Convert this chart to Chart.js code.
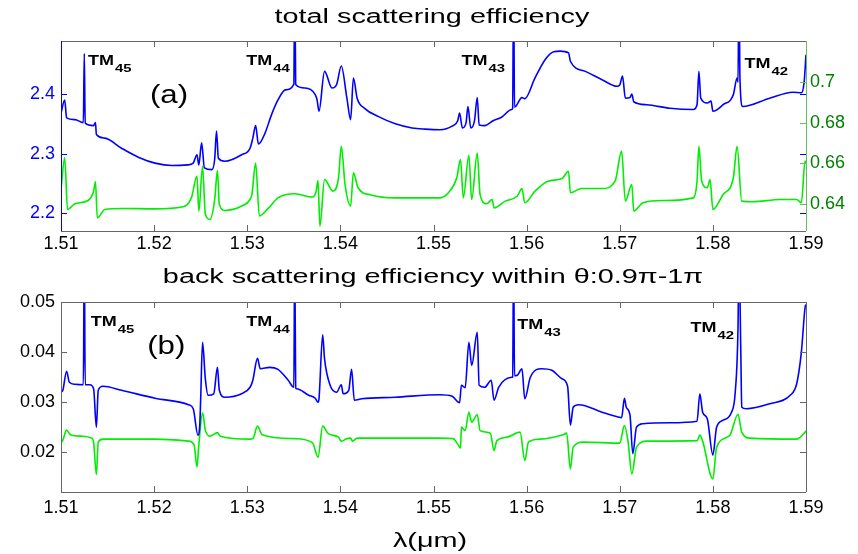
<!DOCTYPE html>
<html>
<head>
<meta charset="utf-8">
<script src="https://cdn.jsdelivr.net/npm/chart.js@4.4.1/dist/chart.umd.min.js"></script>
<style>
  body { margin: 0; background: #fff; }
  .wrap { position: relative; width: 858px; height: 554px; }
  canvas { position: absolute; left: 0; }
  #chartA { top: 0; }
  #chartB { top: 262px; }
</style>
</head>
<body>
<div class="wrap">
  <canvas id="chartA" width="858" height="262"></canvas>
  <canvas id="chartB" width="858" height="292"></canvas>
</div>
<script>
// wavelength axis (um)
const wlTicks = [1.51, 1.52, 1.53, 1.54, 1.55, 1.56, 1.57, 1.58, 1.59];
const totLeftTicks = [2.2, 2.3, 2.4];
const totRightTicks = [0.64, 0.66, 0.68, 0.7];
const backTicks = [0.02, 0.03, 0.04, 0.05];

// (a) total scattering efficiency, blue trace (left axis)
const totBlueWl = [1.5100, 1.5104, 1.5106, 1.5115, 1.5124, 1.5125, 1.5126, 1.5135, 1.5137, 1.5138,
  1.5147, 1.5165, 1.5183, 1.5201, 1.5219, 1.5236, 1.5242, 1.5246, 1.5248, 1.5251,
  1.5254, 1.5262, 1.5265, 1.5267, 1.5269, 1.5276, 1.5294, 1.5303, 1.5306, 1.5309,
  1.5312, 1.5319, 1.5326, 1.5333, 1.5341, 1.5350, 1.5351, 1.5352, 1.5362, 1.5373,
  1.5375, 1.5377, 1.5383, 1.5391, 1.5396, 1.5401, 1.5407, 1.5411, 1.5414, 1.5418,
  1.5426, 1.5441, 1.5459, 1.5477, 1.5491, 1.5507, 1.5520, 1.5526, 1.5528, 1.5531,
  1.5535, 1.5537, 1.5540, 1.5544, 1.5547, 1.5549, 1.5555, 1.5564, 1.5573, 1.5584,
  1.5585, 1.5586, 1.5587, 1.5595, 1.5598, 1.5609, 1.5620, 1.5629, 1.5636, 1.5645,
  1.5647, 1.5663, 1.5681, 1.5697, 1.5700, 1.5703, 1.5706, 1.5711, 1.5713, 1.5715,
  1.5729, 1.5754, 1.5779, 1.5783, 1.5785, 1.5787, 1.5794, 1.5798, 1.5800, 1.5811,
  1.5822, 1.5826, 1.5827, 1.5828, 1.5829, 1.5832, 1.5861, 1.5886, 1.5895, 1.5898,
  1.5900];
const totBlue = [2.368, 2.390, 2.360, 2.357, 2.352, 2.468, 2.351, 2.347, 2.352, 2.332,
  2.326, 2.309, 2.294, 2.284, 2.280, 2.281, 2.284, 2.298, 2.281, 2.318,
  2.276, 2.273, 2.290, 2.338, 2.292, 2.287, 2.298, 2.309, 2.326, 2.347,
  2.316, 2.334, 2.365, 2.390, 2.407, 2.416, 2.600, 2.416, 2.410, 2.399,
  2.390, 2.371, 2.438, 2.410, 2.416, 2.447, 2.393, 2.357, 2.427, 2.393,
  2.376, 2.362, 2.350, 2.343, 2.341, 2.340, 2.346, 2.355, 2.368, 2.343,
  2.352, 2.379, 2.343, 2.355, 2.394, 2.348, 2.347, 2.355, 2.361, 2.374,
  2.376, 2.600, 2.378, 2.394, 2.392, 2.427, 2.458, 2.471, 2.472, 2.469,
  2.455, 2.438, 2.424, 2.413, 2.415, 2.430, 2.393, 2.394, 2.400, 2.387,
  2.382, 2.376, 2.374, 2.382, 2.438, 2.393, 2.385, 2.388, 2.371, 2.382,
  2.399, 2.427, 2.420, 2.600, 2.430, 2.379, 2.393, 2.403, 2.402, 2.420,
  2.466];

// (a) green trace (right axis)
const totGreenWl = [1.5100, 1.5104, 1.5107, 1.5115, 1.5129, 1.5135, 1.5137, 1.5139, 1.5147, 1.5165,
  1.5201, 1.5230, 1.5240, 1.5246, 1.5248, 1.5252, 1.5255, 1.5260, 1.5265, 1.5268,
  1.5270, 1.5276, 1.5294, 1.5303, 1.5305, 1.5309, 1.5313, 1.5323, 1.5333, 1.5351,
  1.5370, 1.5374, 1.5376, 1.5378, 1.5383, 1.5392, 1.5398, 1.5401, 1.5405, 1.5411,
  1.5414, 1.5419, 1.5433, 1.5459, 1.5507, 1.5516, 1.5525, 1.5529, 1.5532, 1.5538,
  1.5541, 1.5547, 1.5550, 1.5557, 1.5563, 1.5565, 1.5577, 1.5590, 1.5595, 1.5598,
  1.5609, 1.5623, 1.5638, 1.5645, 1.5647, 1.5659, 1.5681, 1.5695, 1.5702, 1.5706,
  1.5713, 1.5715, 1.5725, 1.5747, 1.5779, 1.5783, 1.5785, 1.5788, 1.5794, 1.5797,
  1.5800, 1.5811, 1.5822, 1.5826, 1.5831, 1.5843, 1.5872, 1.5890, 1.5895, 1.5899,
  1.5900];
const totGreen = [0.6470, 0.6627, 0.6373, 0.6401, 0.6417, 0.6463, 0.6509, 0.6332, 0.6373, 0.6378,
  0.6376, 0.6385, 0.6430, 0.6537, 0.6365, 0.6586, 0.6349, 0.6324, 0.6420, 0.6565,
  0.6398, 0.6368, 0.6390, 0.6422, 0.6447, 0.6602, 0.6341, 0.6381, 0.6430, 0.6450,
  0.6434, 0.6463, 0.6515, 0.6291, 0.6520, 0.6463, 0.6529, 0.6684, 0.6496, 0.6390,
  0.6553, 0.6480, 0.6444, 0.6430, 0.6430, 0.6455, 0.6529, 0.6618, 0.6430, 0.6640,
  0.6422, 0.6651, 0.6447, 0.6401, 0.6422, 0.6381, 0.6414, 0.6439, 0.6476, 0.6406,
  0.6463, 0.6512, 0.6525, 0.6561, 0.6455, 0.6476, 0.6476, 0.6512, 0.6660, 0.6414,
  0.6496, 0.6365, 0.6406, 0.6417, 0.6430, 0.6512, 0.6684, 0.6512, 0.6480, 0.6520,
  0.6373, 0.6447, 0.6529, 0.6684, 0.6414, 0.6411, 0.6422, 0.6422, 0.6406, 0.6611,
  0.6600];

// (b) back scattering efficiency, blue trace
const backBlueWl = [1.5100, 1.5102, 1.5106, 1.5109, 1.5115, 1.5124, 1.5125, 1.5126, 1.5131, 1.5135,
  1.5138, 1.5140, 1.5145, 1.5165, 1.5201, 1.5237, 1.5242, 1.5247, 1.5249, 1.5250,
  1.5252, 1.5255, 1.5258, 1.5264, 1.5268, 1.5270, 1.5276, 1.5294, 1.5303, 1.5306,
  1.5311, 1.5314, 1.5324, 1.5333, 1.5344, 1.5350, 1.5351, 1.5352, 1.5353, 1.5366,
  1.5373, 1.5376, 1.5377, 1.5381, 1.5383, 1.5389, 1.5396, 1.5401, 1.5403, 1.5409,
  1.5412, 1.5415, 1.5423, 1.5459, 1.5507, 1.5520, 1.5528, 1.5530, 1.5534, 1.5538,
  1.5541, 1.5547, 1.5549, 1.5555, 1.5562, 1.5565, 1.5570, 1.5584, 1.5585, 1.5586,
  1.5587, 1.5590, 1.5595, 1.5598, 1.5604, 1.5616, 1.5627, 1.5638, 1.5644, 1.5647,
  1.5650, 1.5656, 1.5681, 1.5699, 1.5702, 1.5705, 1.5707, 1.5711, 1.5714, 1.5718,
  1.5725, 1.5754, 1.5783, 1.5786, 1.5789, 1.5794, 1.5800, 1.5804, 1.5811, 1.5820,
  1.5824, 1.5827, 1.5828, 1.5830, 1.5831, 1.5836, 1.5861, 1.5883, 1.5890, 1.5895,
  1.5899, 1.5900];
const backBlue = [0.0319, 0.0323, 0.0361, 0.0339, 0.0335, 0.0334, 0.0600, 0.0334, 0.0334, 0.0326,
  0.0249, 0.0323, 0.0331, 0.0323, 0.0307, 0.0294, 0.0286, 0.0233, 0.0253, 0.0306,
  0.0419, 0.0346, 0.0313, 0.0316, 0.0369, 0.0323, 0.0309, 0.0316, 0.0329, 0.0343,
  0.0387, 0.0366, 0.0369, 0.0365, 0.0343, 0.0329, 0.0600, 0.0328, 0.0326, 0.0313,
  0.0307, 0.0299, 0.0305, 0.0434, 0.0386, 0.0333, 0.0319, 0.0334, 0.0316, 0.0323,
  0.0365, 0.0303, 0.0306, 0.0309, 0.0314, 0.0311, 0.0298, 0.0333, 0.0328, 0.0419,
  0.0373, 0.0439, 0.0333, 0.0329, 0.0343, 0.0303, 0.0329, 0.0349, 0.0350, 0.0600,
  0.0352, 0.0353, 0.0366, 0.0306, 0.0349, 0.0366, 0.0363, 0.0346, 0.0331, 0.0253,
  0.0289, 0.0294, 0.0279, 0.0269, 0.0268, 0.0307, 0.0289, 0.0273, 0.0196, 0.0249,
  0.0256, 0.0258, 0.0261, 0.0316, 0.0279, 0.0266, 0.0193, 0.0249, 0.0263, 0.0279,
  0.0319, 0.0450, 0.0600, 0.0400, 0.0289, 0.0286, 0.0296, 0.0313, 0.0336, 0.0399,
  0.0489, 0.0495];

// (b) green trace
const backGreenWl = [1.5100, 1.5102, 1.5106, 1.5110, 1.5122, 1.5133, 1.5135, 1.5138, 1.5140, 1.5145,
  1.5201, 1.5237, 1.5243, 1.5246, 1.5248, 1.5252, 1.5255, 1.5260, 1.5268, 1.5271,
  1.5303, 1.5306, 1.5311, 1.5316, 1.5351, 1.5370, 1.5376, 1.5381, 1.5387, 1.5398,
  1.5401, 1.5407, 1.5411, 1.5413, 1.5418, 1.5507, 1.5521, 1.5526, 1.5529, 1.5530,
  1.5534, 1.5538, 1.5541, 1.5547, 1.5550, 1.5561, 1.5565, 1.5568, 1.5579, 1.5593,
  1.5598, 1.5602, 1.5614, 1.5639, 1.5643, 1.5647, 1.5650, 1.5661, 1.5700, 1.5705,
  1.5709, 1.5713, 1.5718, 1.5729, 1.5783, 1.5786, 1.5789, 1.5800, 1.5804, 1.5818,
  1.5827, 1.5831, 1.5840, 1.5890, 1.5899, 1.5900];
const backGreen = [0.0218, 0.0223, 0.0243, 0.0234, 0.0231, 0.0227, 0.0219, 0.0154, 0.0219, 0.0225,
  0.0225, 0.0221, 0.0213, 0.0169, 0.0213, 0.0278, 0.0243, 0.0231, 0.0238, 0.0231,
  0.0225, 0.0226, 0.0251, 0.0234, 0.0226, 0.0218, 0.0189, 0.0251, 0.0236, 0.0229,
  0.0221, 0.0226, 0.0227, 0.0221, 0.0227, 0.0227, 0.0226, 0.0215, 0.0207, 0.0249,
  0.0242, 0.0279, 0.0259, 0.0274, 0.0242, 0.0237, 0.0202, 0.0222, 0.0229, 0.0239,
  0.0182, 0.0219, 0.0225, 0.0234, 0.0237, 0.0165, 0.0209, 0.0219, 0.0217, 0.0252,
  0.0219, 0.0155, 0.0209, 0.0221, 0.0222, 0.0233, 0.0221, 0.0145, 0.0209, 0.0232,
  0.0275, 0.0239, 0.0227, 0.0225, 0.0239, 0.0242];

const modeLabels = ['45', '44', '43', '42'];
const modeWlA = [1.5129, 1.5299, 1.5530, 1.5834];
const modeValA = [2.4487, 2.4487, 2.4487, 2.4437];
const modeWlB = [1.5132, 1.5299, 1.5590, 1.5776];
const modeValB = [0.04517, 0.04517, 0.04457, 0.04397];

const BLUE = '#0000ff';
const GREEN = '#00ee00';
const TEXT_FONT = '"Liberation Sans", Arial, sans-serif';

const pts = (xs, ys) => xs.map((x, i) => ({ x: x, y: ys[i] }));
const fmt = v => String(+v.toFixed(3));

// draw text stretched horizontally by sx
function wideText(ctx, str, x, y, font, sx, align) {
    ctx.save();
    ctx.font = font;
    ctx.fillStyle = '#000';
    ctx.textBaseline = 'alphabetic';
    ctx.textAlign = align || 'left';
    ctx.translate(x, y);
    ctx.scale(sx, 1);
    ctx.fillText(str, 0, 0);
    ctx.restore();
}

function modeLabel(ctx, x, y, sub) {
    const f1 = 'bold 15px ' + TEXT_FONT;
    wideText(ctx, 'TM', x, y, f1, 1.2);
    ctx.save();
    ctx.font = f1;
    const w = ctx.measureText('TM').width * 1.2;
    ctx.restore();
    wideText(ctx, sub, x + w + 1, y + 7, 'bold 11px ' + TEXT_FONT, 1.35);
}

// box, inward tick marks, labels
function decor(opts) {
    return {
        id: 'decor' + opts.tag,
        afterDatasetsDraw(chart) {
            const ctx = chart.ctx;
            const a = chart.chartArea;
            const x = chart.scales.x, yl = chart.scales[opts.leftId];
            ctx.save();
            ctx.lineWidth = 1;
            ctx.strokeStyle = '#666';
            ctx.beginPath();
            ctx.moveTo(a.left, a.top + 0.5); ctx.lineTo(a.right, a.top + 0.5);
            ctx.moveTo(a.left, a.bottom + 0.5); ctx.lineTo(a.right, a.bottom + 0.5);
            wlTicks.forEach(v => {
                const px = Math.round(x.getPixelForValue(v)) + 0.5;
                ctx.moveTo(px, a.top); ctx.lineTo(px, a.top + 6);
                ctx.moveTo(px, a.bottom); ctx.lineTo(px, a.bottom - 6);
            });
            ctx.stroke();

            ctx.strokeStyle = opts.leftColor;
            ctx.beginPath();
            ctx.moveTo(a.left + 0.5, a.top); ctx.lineTo(a.left + 0.5, a.bottom);
            opts.leftTicks.forEach(v => {
                const py = Math.round(yl.getPixelForValue(v)) + 0.5;
                ctx.moveTo(a.left, py); ctx.lineTo(a.left + 6, py);
                ctx.moveTo(a.right, py); ctx.lineTo(a.right - 6, py);
            });
            ctx.stroke();

            ctx.strokeStyle = opts.rightColor;
            ctx.beginPath();
            ctx.moveTo(a.right + 0.5, a.top); ctx.lineTo(a.right + 0.5, a.bottom);
            if (opts.rightId) {
                const yr = chart.scales[opts.rightId];
                opts.rightTicks.forEach(v => {
                    const py = Math.round(yr.getPixelForValue(v)) + 0.5;
                    ctx.moveTo(a.right, py); ctx.lineTo(a.right - 6, py);
                });
            }
            ctx.stroke();
            ctx.restore();

            // titles and annotations
            wideText(ctx, opts.title, opts.titleX, opts.titleY, '20px ' + TEXT_FONT, 1.44, 'center');
            wideText(ctx, opts.tag, x.getPixelForValue(opts.tagWl), yl.getPixelForValue(opts.tagVal) + 9,
                '25px ' + TEXT_FONT, 1.25, 'center');
            modeLabels.forEach((m, i) => {
                modeLabel(ctx, x.getPixelForValue(opts.modeWl[i]), yl.getPixelForValue(opts.modeVal[i]), m);
            });
            if (opts.xTitle) {
                wideText(ctx, opts.xTitle, 430, opts.xTitleY, '20px ' + TEXT_FONT, 1.44, 'center');
            }
        }
    };
}

function xScale(pad, height) {
    return {
        type: 'linear',
        min: 1.51,
        max: 1.59,
        afterBuildTicks: axis => { axis.ticks = wlTicks.map(v => ({ value: v })); },
        afterFit: axis => { axis.height = height; },
        ticks: { color: '#000', padding: pad, maxRotation: 0, font: { family: TEXT_FONT, size: 18 }, callback: fmt },
        grid: { drawOnChartArea: false, drawTicks: false },
        border: { display: false }
    };
}

function yScale(pos, lo, hi, tickVals, color, width, pad) {
    return {
        type: 'linear',
        position: pos,
        min: lo,
        max: hi,
        afterBuildTicks: axis => { axis.ticks = tickVals.map(v => ({ value: v })); },
        afterFit: axis => { axis.width = width; },
        ticks: { color: color, padding: pad, font: { family: TEXT_FONT, size: 18 }, callback: fmt },
        grid: { drawOnChartArea: false, drawTicks: false },
        border: { display: false }
    };
}

const lineStyle = { pointRadius: 0, borderWidth: 1.6, fill: false, cubicInterpolationMode: 'monotone' };

new Chart(document.getElementById('chartA'), {
    type: 'line',
    data: {
        datasets: [
            Object.assign({ data: pts(totBlueWl, totBlue), borderColor: BLUE, yAxisID: 'y' }, lineStyle),
            Object.assign({ data: pts(totGreenWl, totGreen), borderColor: GREEN, yAxisID: 'y2' }, lineStyle)
        ]
    },
    options: {
        responsive: false,
        animation: false,
        devicePixelRatio: 1,
        layout: { padding: { top: 41, left: 0, right: 0, bottom: 0 } },
        plugins: { legend: { display: false }, tooltip: { enabled: false } },
        scales: {
            x: xScale(2, 31),
            y: yScale('left', 2.17, 2.489, totLeftTicks, BLUE, 61, 6),
            y2: yScale('right', 0.6267, 0.7202, totRightTicks, '#008000', 52, 4)
        }
    },
    plugins: [decor({
        tag: '(a)', leftId: 'y', rightId: 'y2',
        leftTicks: totLeftTicks, rightTicks: totRightTicks,
        leftColor: BLUE, rightColor: '#66bb66',
        title: 'total scattering efficiency', titleX: 432, titleY: 23,
        tagWl: 1.5216, tagVal: 2.40,
        modeWl: modeWlA, modeVal: modeValA
    })]
});

new Chart(document.getElementById('chartB'), {
    type: 'line',
    data: {
        datasets: [
            Object.assign({ data: pts(backBlueWl, backBlue), borderColor: BLUE, yAxisID: 'y' }, lineStyle),
            Object.assign({ data: pts(backGreenWl, backGreen), borderColor: GREEN, yAxisID: 'y' }, lineStyle)
        ]
    },
    options: {
        responsive: false,
        animation: false,
        devicePixelRatio: 1,
        layout: { padding: { top: 40, left: 0, right: 52, bottom: 0 } },
        plugins: { legend: { display: false }, tooltip: { enabled: false } },
        scales: {
            x: xScale(5, 62),
            y: yScale('left', 0.0119, 0.05, backTicks, '#000', 61, 6)
        }
    },
    plugins: [decor({
        tag: '(b)', leftId: 'y', rightId: null,
        leftTicks: backTicks, rightTicks: [],
        leftColor: '#666', rightColor: '#666',
        title: 'back scattering efficiency within \u03b8:0.9\u03c0-1\u03c0', titleX: 433, titleY: 21,
        tagWl: 1.5213, tagVal: 0.04136,
        modeWl: modeWlB, modeVal: modeValB,
        xTitle: '\u03bb(\u03bcm)', xTitleY: 285
    })]
});
</script>
</body>
</html>
